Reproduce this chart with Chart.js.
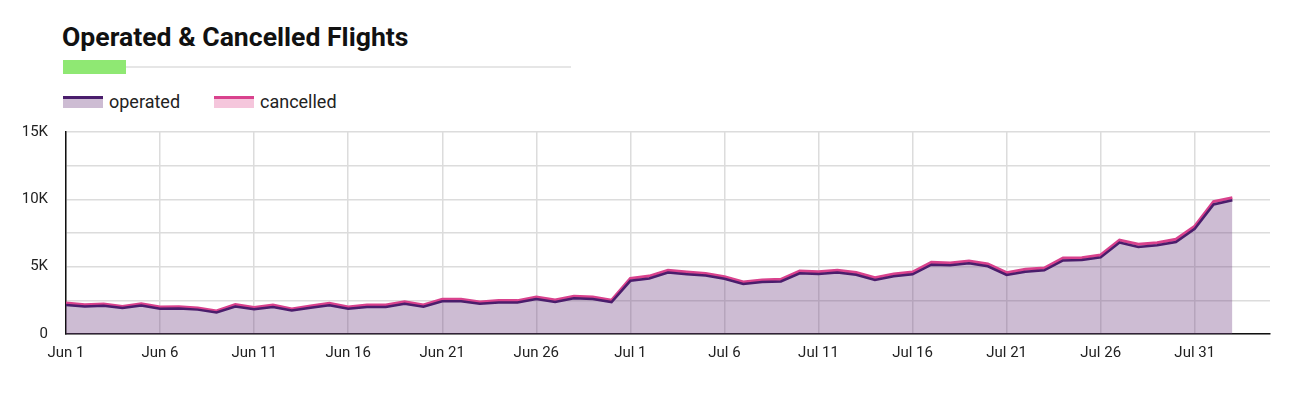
<!DOCTYPE html>
<html>
<head>
<meta charset="utf-8">
<script src="https://cdn.jsdelivr.net/npm/chart.js@4"></script>
<style>
  body { margin: 0; background: #fff; font-family: Roboto, sans-serif; }
  #wrap { position: relative; width: 1302px; height: 394px; }
  .title { position: absolute; left: 62px; top: 21px; font-size: 26.6px; font-weight: bold; color: #111; }
  .bar { position: absolute; left: 63px; top: 60px; width: 63px; height: 14px; background: #8fe873; }
  .rule { position: absolute; left: 126px; top: 66px; width: 445px; height: 2px; background: #e6e6e6; }
  .legend { position: absolute; top: 91px; font-size: 18px; color: #222; display: flex; align-items: center; }
  .legend .ico { width: 40px; height: 12px; margin-right: 6px; box-sizing: border-box; }
  #box { position: absolute; left: 0; top: 105px; width: 1302px; height: 264px; }
</style>
</head>
<body>
<div id="wrap">
  <div class="title">Operated &amp; Cancelled Flights</div>
  <div class="bar"></div>
  <div class="rule"></div>
  <div class="legend" style="left:63px"><span class="ico" style="border-top:3px solid #4a1d6c;background:#cdbcd3"></span>operated</div>
  <div class="legend" style="left:214px"><span class="ico" style="border-top:3px solid #d9428d;background:#f5c6dc"></span>cancelled</div>
  <div id="box"><canvas id="chart"></canvas></div>
</div>
<script>
// one value per day, Jun 1 .. Aug 2
const operated = [2160, 2040, 2090, 1930, 2120, 1870, 1900, 1810, 1600, 2040,
  1830, 2010, 1740, 1950, 2140, 1870, 2010, 2010, 2250, 2020,
  2430, 2430, 2240, 2330, 2340, 2590, 2380, 2650, 2600, 2370,
  3950, 4120, 4560, 4440, 4340, 4100, 3710, 3860, 3900, 4510,
  4460, 4560, 4400, 4020, 4280, 4430, 5150, 5100, 5250, 5030,
  4390, 4630, 4730, 5460, 5490, 5690, 6790, 6470, 6590, 6830,
  7810, 9620, 9930];
const cancelled = [140, 140, 140, 120, 130, 130, 130, 120, 110, 140,
  130, 140, 120, 130, 140, 130, 140, 140, 150, 130,
  150, 150, 140, 150, 140, 160, 140, 150, 150, 130,
  180, 180, 170, 160, 160, 160, 150, 150, 160, 170,
  170, 170, 160, 160, 170, 170, 170, 170, 170, 170,
  160, 170, 170, 180, 180, 180, 190, 190, 190, 200,
  190, 210, 190];
const tickLabels = ['Jun 1', 'Jun 6', 'Jun 11', 'Jun 16', 'Jun 21', 'Jun 26', 'Jul 1',
  'Jul 6', 'Jul 11', 'Jul 16', 'Jul 21', 'Jul 26', 'Jul 31'];

const font = { family: 'Roboto', size: 15 };

new Chart(document.getElementById('chart'), {
  type: 'line',
  data: {
    datasets: [
      {
        label: 'operated',
        data: operated.map((v, i) => ({ x: i, y: v })),
        borderColor: '#4a1d6c',
        backgroundColor: 'rgba(112, 64, 129, 0.35)',
        borderWidth: 2.5,
        fill: 'origin',
        pointRadius: 0,
        tension: 0
      },
      {
        label: 'cancelled',
        data: cancelled.map((v, i) => ({ x: i, y: v })),
        borderColor: '#d9428d',
        backgroundColor: 'rgba(230, 90, 150, 0.3)',
        borderWidth: 3,
        fill: '-1',
        pointRadius: 0,
        tension: 0
      }
    ]
  },
  options: {
    responsive: true,
    maintainAspectRatio: false,
    animation: false,
    layout: { padding: { left: 0, right: 32, top: 16, bottom: 0 } },
    plugins: { legend: { display: false }, tooltip: { enabled: false } },
    scales: {
      x: {
        type: 'linear',
        min: 0,
        max: 64,
        afterFit: s => { s.height = 35; },
        border: { color: '#111', width: 1.5 },
        grid: { color: '#dcdcdc', lineWidth: 1.5, drawTicks: false },
        ticks: {
          stepSize: 5,
          includeBounds: false,
          padding: 10,
          maxRotation: 0,
          color: '#222',
          font: font,
          callback: v => tickLabels[v / 5] || ''
        }
      },
      y: {
        stacked: true,
        min: 0,
        max: 15000,
        afterFit: s => { s.width = 66; },
        border: { color: '#111', width: 1.5 },
        grid: { color: '#dcdcdc', lineWidth: 1.5, drawTicks: false },
        ticks: {
          stepSize: 2500,
          padding: 18,
          color: '#222',
          font: font,
          callback: v => v % 5000 ? '' : (v ? v / 1000 + 'K' : '0')
        }
      }
    }
  }
});
</script>
</body>
</html>
